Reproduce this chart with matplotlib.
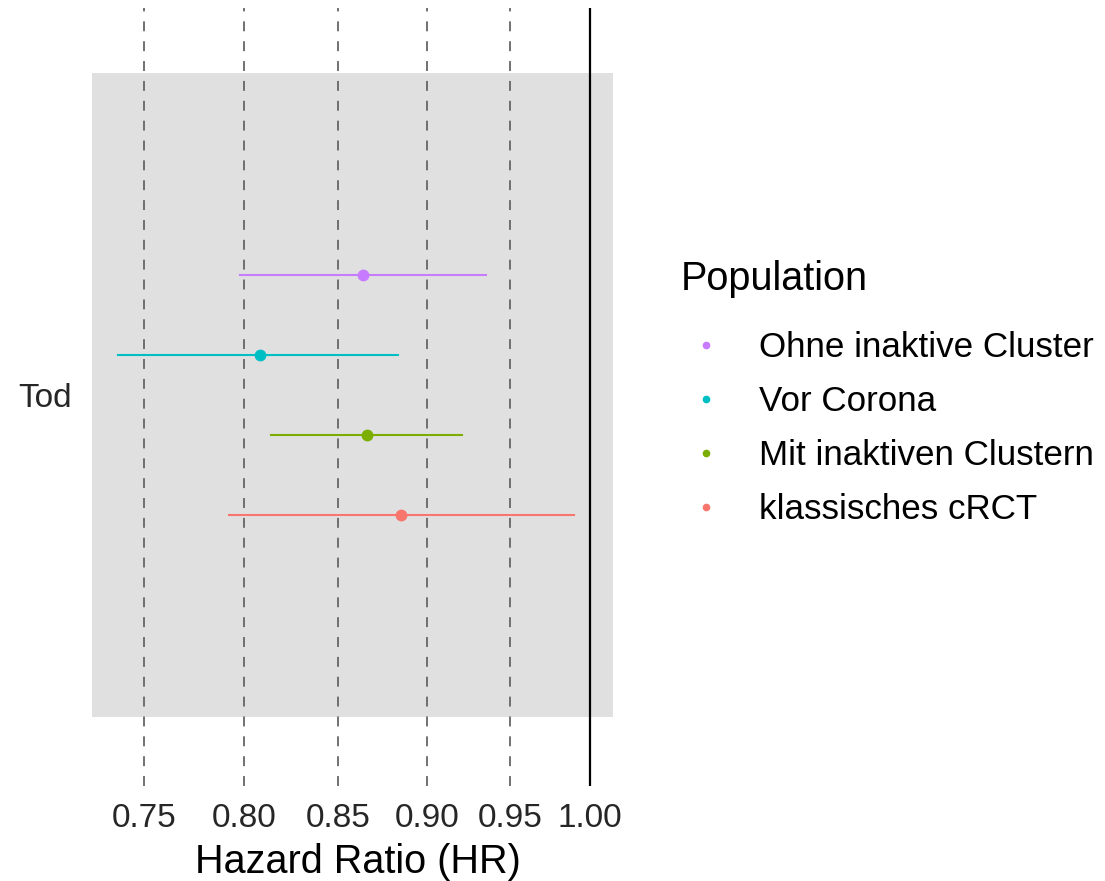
import matplotlib
matplotlib.use("Agg")
import matplotlib.pyplot as plt
from matplotlib.lines import Line2D

plt.rcParams['font.family'] = ['Liberation Sans', 'DejaVu Sans']

# forest plot data (outcome "Tod"), bottom to top
populations = ["klassisches cRCT", "Mit inaktiven Clustern", "Vor Corona", "Ohne inaktive Cluster"]
hr = [0.885, 0.866, 0.808, 0.864]
ci_low = [0.792, 0.814, 0.7375, 0.798]
ci_high = [0.990, 0.921, 0.8835, 0.935]
colors = ["#F8766D", "#7CAE00", "#00BFC4", "#C77CFF"]
dodge = [-0.3, -0.1, 0.1, 0.3]

outcome = "Tod"
ref_lines = [0.75, 0.80, 0.85, 0.90, 0.95]
tick_values = [0.75, 0.80, 0.85, 0.90, 0.95, 1.00]
tick_labels = ["0.75", "0.80", "0.85", "0.90", "0.95", "1.00"]

W, H = 1105, 881
fig = plt.figure(figsize=(W / 100, H / 100), dpi=100)
ax = fig.add_axes([76 / W, 1 - 786 / H, (639 - 76) / W, (786 - 8) / H])
ax.set_xscale("log")
ax.set_xlim(0.7178, 1.0321)
ax.set_ylim(0.0225, 1.9675)

# grey band behind the estimates
ax.axvspan(0.7252, 1.015, ymin=(0.195 - 0.0225) / 1.945, ymax=(1.805 - 0.0225) / 1.945,
           color="#e0e0e0", lw=0, zorder=0)
for v in ref_lines:
    ax.axvline(v, color="#666666", lw=1.3, ls=(0, (5.5, 5.5)), zorder=1)
ax.axvline(1.0, color="black", lw=1.6, zorder=1)

for i in range(len(populations)):
    y = 1 + dodge[i]
    ax.plot([ci_low[i], ci_high[i]], [y, y], color=colors[i], lw=1.5, zorder=2)
    ax.plot(hr[i], y, "o", color=colors[i], ms=7.5, zorder=3)

for s in ax.spines.values():
    s.set_visible(False)
ax.set_xticks(tick_values)
ax.set_xticklabels(tick_labels)
ax.xaxis.set_minor_locator(plt.NullLocator())
ax.set_yticks([1])
ax.set_yticklabels([outcome])
ax.tick_params(length=0, labelsize=24, colors="#262626")
ax.tick_params(axis="x", pad=12)
ax.tick_params(axis="y", pad=3)
ax.set_xlabel("Hazard Ratio (HR)", fontsize=28.5, labelpad=7)

handles = [Line2D([], [], ls="", marker="o", ms=4.5, color=colors[i]) for i in range(len(populations))][::-1]
leg = fig.legend(handles, populations[::-1], title="Population", loc="upper left",
                 bbox_to_anchor=(681 / W, 1 - 260 / H), frameon=False, fontsize=25.2,
                 title_fontsize=28.5, handlelength=1.43, handletextpad=0.8,
                 labelspacing=0.6, borderaxespad=0, borderpad=0)
leg._legend_box.align = "left"
leg._legend_box.sep = 24

fig.savefig("out.png", dpi=100)
